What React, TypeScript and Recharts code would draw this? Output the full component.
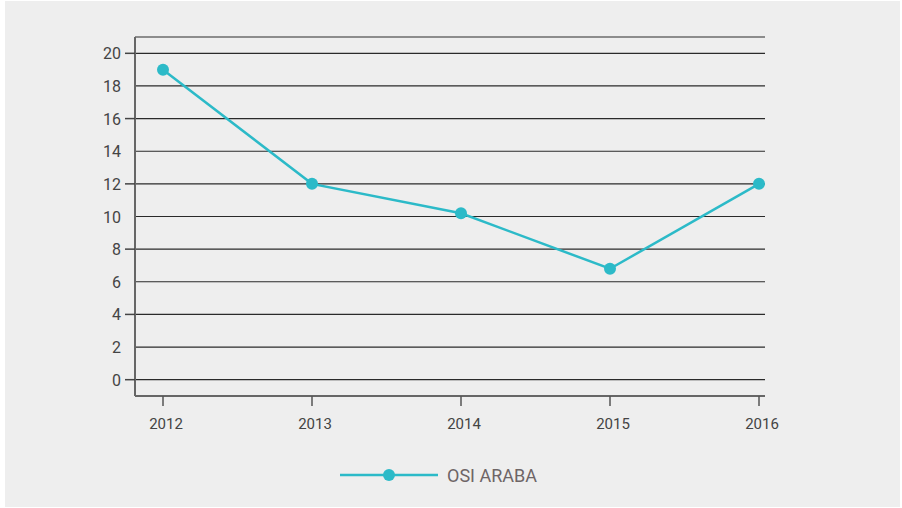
import React from "react";
import { LineChart, Line, XAxis, YAxis, CartesianGrid, Legend } from "recharts";

const years = ["2012", "2013", "2014", "2015", "2016"];
const osiAraba = [19, 12, 10.2, 6.8, 12];
const yTicks = [0, 2, 4, 6, 8, 10, 12, 14, 16, 18, 20];
const seriesName = "OSI ARABA";

const data = years.map((y, i) => ({ year: y, value: osiAraba[i] }));

const FONT = "Roboto, 'DejaVu Sans', sans-serif";
const TEAL = "#2cbac8";

const YTick = (props: any) => {
  const { x, y, payload, index } = props;
  return (
    <g>
      {index % 2 === 0 ? (
        <line x1={x - 2} x2={x + 8} y1={y} y2={y} stroke="#444" strokeWidth={1.5} />
      ) : null}
      <text x={x - 6} y={y} dy={6} textAnchor="end" fill="#444" fontSize={16} fontFamily={FONT}>
        {payload.value}
      </text>
    </g>
  );
};

const LegendContent = () => (
  <div style={{ width: 895, height: 71, position: "relative" }}>
    <svg width={895} height={71} style={{ position: "absolute", left: 0, top: 0 }}>
      <line x1={335} x2={433} y1={39} y2={39} stroke={TEAL} strokeWidth={2.5} />
      <circle cx={384} cy={39} r={6} fill={TEAL} />
      <text x={442} y={46} fill="#6e6566" fontSize={18} fontFamily={FONT}>
        {seriesName}
      </text>
    </svg>
  </div>
);

export default function App() {
  return (
    <div style={{ position: "absolute", left: 5, top: 1, width: 895, height: 506, background: "#eeeeee" }}>
      <LineChart width={895} height={506} data={data} margin={{ top: 36, right: 135, bottom: 0, left: 0 }}>
        <CartesianGrid vertical={false} stroke="#2a2a2a" strokeWidth={1.2} />
        <XAxis
          dataKey="year"
          height={40}
          padding={{ left: 28, right: 6 }}
          axisLine={{ stroke: "#666", strokeWidth: 2 }}
          tickLine={{ stroke: "#555", strokeWidth: 1.5 }}
          tickSize={10}
          tick={{ fill: "#444", fontSize: 15, fontFamily: FONT, dy: 10, dx: 3 }}
        />
        <YAxis
          width={130}
          domain={[-1, 21]}
          ticks={yTicks}
          interval={0}
          axisLine={{ stroke: "#666", strokeWidth: 2 }}
          tickLine={false}
          tick={<YTick />}
        />
        <Legend verticalAlign="bottom" wrapperStyle={{ left: 0, width: 895 }} content={<LegendContent />} />
        <Line
          type="linear"
          dataKey="value"
          name={seriesName}
          stroke={TEAL}
          strokeWidth={2.5}
          dot={{ r: 6, fill: TEAL, stroke: TEAL, strokeWidth: 0 }}
          activeDot={false}
          isAnimationActive={false}
        />
      </LineChart>
    </div>
  );
}
